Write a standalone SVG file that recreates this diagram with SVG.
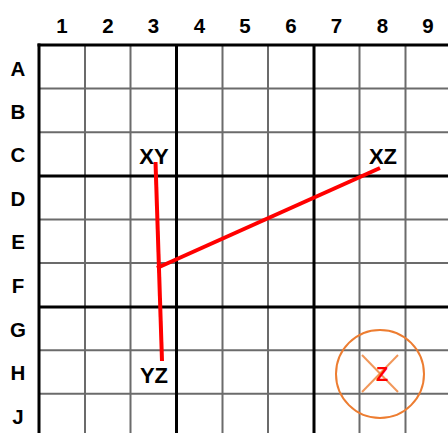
<svg xmlns="http://www.w3.org/2000/svg" width="448" height="433" viewBox="0 0 448 433">
<style>
.thin{stroke:#6b6b6b;stroke-width:2;fill:none}
.thick{stroke:#000;stroke-width:3;fill:none}
.hdr{font-family:"Liberation Sans",Arial,sans-serif;font-weight:bold;font-size:20.5px;fill:#000;text-anchor:middle}
.lbl{font-family:"Liberation Sans",Arial,sans-serif;font-size:22px;font-weight:bold;fill:#000;text-anchor:middle}
.conn{stroke:#ff0000;stroke-width:4;fill:none;stroke-linecap:butt}
.mark{stroke:#ed7d31;stroke-width:2;fill:none}
</style>
<rect width="448" height="433" fill="#fff"/>
<g id="grid">
<g class="thin">
<line x1="85" y1="45" x2="85" y2="433"/>
<line x1="130.5" y1="45" x2="130.5" y2="433"/>
<line x1="222.5" y1="45" x2="222.5" y2="433"/>
<line x1="268" y1="45" x2="268" y2="433"/>
<line x1="359.5" y1="45" x2="359.5" y2="433"/>
<line x1="405.5" y1="45" x2="405.5" y2="433"/>
<line x1="39" y1="88.6" x2="448" y2="88.6"/>
<line x1="39" y1="132.2" x2="448" y2="132.2"/>
<line x1="39" y1="219.4" x2="448" y2="219.4"/>
<line x1="39" y1="263" x2="448" y2="263"/>
<line x1="39" y1="350.2" x2="448" y2="350.2"/>
<line x1="39" y1="393.8" x2="448" y2="393.8"/>
</g>
<g class="thick">
<line x1="39" y1="43.5" x2="39" y2="433"/>
<line x1="176.5" y1="45" x2="176.5" y2="433"/>
<line x1="314" y1="45" x2="314" y2="433"/>
<line x1="37.5" y1="45" x2="448" y2="45"/>
<line x1="39" y1="176" x2="448" y2="176"/>
<line x1="39" y1="307" x2="448" y2="307"/>
</g>
</g>
<g id="headers">
<text class="hdr" x="62" y="33">1</text>
<text class="hdr" x="108" y="33">2</text>
<text class="hdr" x="153.5" y="33">3</text>
<text class="hdr" x="199.5" y="33">4</text>
<text class="hdr" x="245" y="33">5</text>
<text class="hdr" x="291" y="33">6</text>
<text class="hdr" x="336.5" y="33">7</text>
<text class="hdr" x="382.5" y="33">8</text>
<text class="hdr" x="428" y="33">9</text>
<text class="hdr" x="18" y="76">A</text>
<text class="hdr" x="18" y="119">B</text>
<text class="hdr" x="18" y="162">C</text>
<text class="hdr" x="18" y="206">D</text>
<text class="hdr" x="18" y="249">E</text>
<text class="hdr" x="18" y="293">F</text>
<text class="hdr" x="18" y="337">G</text>
<text class="hdr" x="18" y="380">H</text>
<text class="hdr" x="18" y="424">J</text>
</g>
<g id="connectors">
<line class="conn" x1="155.5" y1="162" x2="162" y2="361"/>
<line class="conn" x1="157" y1="268" x2="380" y2="168"/>
</g>
<g id="XY"><text class="lbl" x="154" y="164">XY</text></g>
<g id="XZ"><text class="lbl" x="383" y="164">XZ</text></g>
<g id="YZ"><text class="lbl" x="154" y="383">YZ</text></g>
<g id="Z">
<circle class="mark" cx="380" cy="374" r="44"/>
<line class="mark" x1="362" y1="355" x2="398" y2="392" stroke-opacity="0.8"/>
<line class="mark" x1="398" y1="355" x2="362" y2="392" stroke-opacity="0.8"/>
<text x="382" y="381" font-family="'Liberation Sans',Arial,sans-serif" font-weight="bold" font-size="20" fill="#ff0000" text-anchor="middle">Z</text>
</g>
</svg>
